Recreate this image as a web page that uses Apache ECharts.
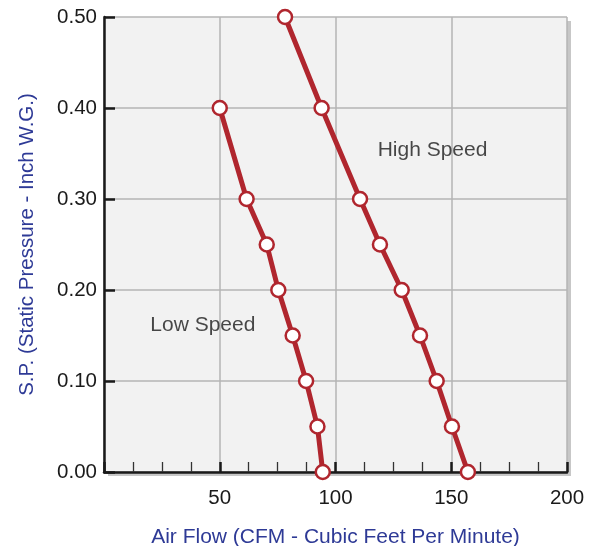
<!DOCTYPE html>
<html>
<head>
<meta charset="utf-8">
<script src="https://cdn.jsdelivr.net/npm/echarts@6/dist/echarts.min.js"></script>
<style>html,body{margin:0;padding:0;background:#fff;}#c{width:598px;height:546px;}</style>
</head>
<body>
<div id="c"></div>
<script>
var lowSpeed = [[50,0.40],[61.6,0.30],[70.3,0.25],[75.3,0.20],[81.5,0.15],[87.3,0.10],[92.2,0.05],[94.5,0.00]];
var highSpeed = [[78.2,0.50],[94,0.40],[110.6,0.30],[119.2,0.25],[128.6,0.20],[136.5,0.15],[143.7,0.10],[150.3,0.05],[157.2,0.00]];
var seriesLabels = [{name:'Low Speed', value:[20.0,0.161]},{name:'High Speed', value:[118.2,0.354]}];
var xTitle = 'Air Flow (CFM - Cubic Feet Per Minute)';
var yTitle = 'S.P. (Static Pressure - Inch W.G.)';

var red = '#b0262e';
var font = 'Liberation Sans, Arial, sans-serif';
var chart = echarts.init(document.getElementById('c'), null, {renderer:'canvas'});
function lineSeries(name, data){
  return {
    name:name, type:'line', data:data, clip:false,
    lineStyle:{color:red, width:5},
    symbol:'circle', symbolSize:14,
    itemStyle:{color:'#ffffff', borderColor:red, borderWidth:2.5},
    z:5
  };
}
chart.setOption({
  animation:false,
  grid:{left:104, right:31, top:17, bottom:74, outerBoundsMode:'none', containLabel:false,
        show:true, backgroundColor:'#f2f2f2', borderWidth:0,
        shadowColor:'rgba(0,0,0,0.22)', shadowOffsetX:4, shadowOffsetY:4, shadowBlur:0},
  xAxis:{type:'value', min:0, max:200, interval:50,
    name:xTitle, nameLocation:'middle', nameGap:55,
    nameTextStyle:{color:'#2e3a96', fontSize:21, fontFamily:font},
    axisLine:{show:true, lineStyle:{color:'#1a1a1a', width:2.5}},
    axisTick:{show:true, inside:true, length:10, lineStyle:{color:'#1a1a1a', width:2.5}},
    minorTick:{show:true, splitNumber:4, length:10, lineStyle:{color:'#333', width:1.3}},
    axisLabel:{color:'#1a1a1a', fontSize:20.5, fontFamily:font, margin:16,
      formatter:function(v){return v===0?'':String(v);}},
    splitLine:{show:true, lineStyle:{color:'#b5b5b5', width:1.5}}
  },
  yAxis:{type:'value', min:0, max:0.5, interval:0.1,
    name:yTitle, nameLocation:'middle', nameGap:66,
    nameTextStyle:{color:'#2e3a96', fontSize:20.5, fontFamily:font},
    axisLine:{show:true, lineStyle:{color:'#1a1a1a', width:2.5}},
    axisTick:{show:true, inside:true, length:11, lineStyle:{color:'#1a1a1a', width:2.5}},
    axisLabel:{color:'#1a1a1a', fontSize:20.5, fontFamily:font, margin:7,
      formatter:function(v){return v.toFixed(2);}},
    splitLine:{show:true, lineStyle:{color:'#b5b5b5', width:1.5}}
  },
  series:[
    lineSeries('Low Speed', lowSpeed),
    lineSeries('High Speed', highSpeed),
    {type:'scatter', data:seriesLabels, symbolSize:0, silent:true,
     label:{show:true, position:'right', distance:0, formatter:'{b}', color:'#1a1a1a', fontSize:21, fontFamily:font}}
  ]
});
</script>
</body>
</html>
